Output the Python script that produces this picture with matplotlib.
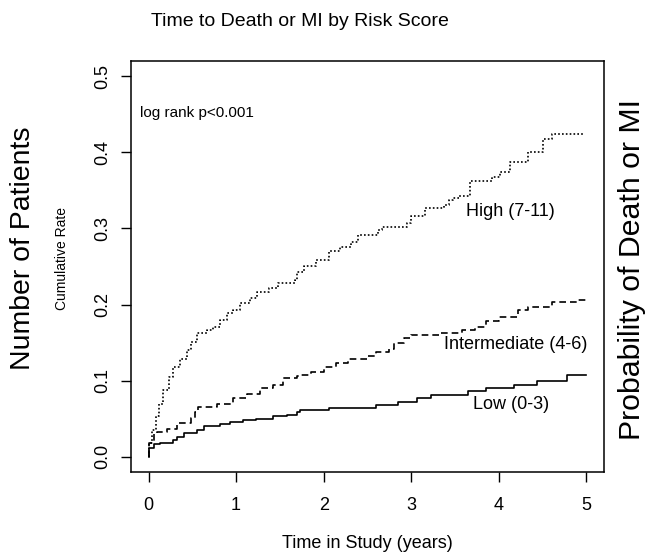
import numpy as np
import matplotlib
matplotlib.use("Agg")
import matplotlib.pyplot as plt

plt.rcParams['font.family'] = ['Liberation Sans', 'DejaVu Sans']

# curvas de incidencia acumulada (tiempo en anos, tasa acumulada)
t_high = [0.0, 0.01, 0.04, 0.08, 0.12, 0.17, 0.23, 0.285, 0.36, 0.44, 0.49, 0.55, 0.67,
          0.74, 0.82, 0.90, 0.97, 1.05, 1.16, 1.24, 1.37, 1.48, 1.67, 1.69, 1.78, 1.91,
          2.06, 2.19, 2.31, 2.39, 2.62, 2.66, 2.95, 3.0, 3.16, 3.37, 3.43, 3.48, 3.54,
          3.67, 3.92, 4.01, 4.13, 4.33, 4.50, 4.61, 4.98]
y_high = [0.0, 0.0175, 0.035, 0.053, 0.070, 0.088, 0.105, 0.118, 0.129, 0.140, 0.151,
          0.162, 0.167, 0.171, 0.180, 0.189, 0.193, 0.202, 0.208, 0.217, 0.222, 0.228,
          0.232, 0.243, 0.251, 0.259, 0.270, 0.276, 0.282, 0.292, 0.298, 0.302, 0.307,
          0.317, 0.327, 0.331, 0.337, 0.340, 0.343, 0.362, 0.368, 0.374, 0.387, 0.401,
          0.418, 0.424, 0.424]

t_mid = [0.0, 0.01, 0.06, 0.10, 0.21, 0.32, 0.48, 0.53, 0.57, 0.78, 0.97, 1.12, 1.27,
         1.42, 1.54, 1.69, 1.73, 1.86, 2.0, 2.14, 2.28, 2.5, 2.6, 2.74, 2.8, 2.92, 3.0,
         3.33, 3.58, 3.73, 3.85, 4.0, 4.22, 4.33, 4.61, 4.9, 5.0]
y_mid = [0.0, 0.0175, 0.031, 0.033, 0.037, 0.044, 0.0505, 0.059, 0.066, 0.070, 0.077,
         0.083, 0.090, 0.094, 0.103, 0.106, 0.108, 0.112, 0.118, 0.123, 0.128, 0.132,
         0.138, 0.141, 0.149, 0.156, 0.160, 0.163, 0.167, 0.171, 0.178, 0.184, 0.193,
         0.197, 0.204, 0.206, 0.206]

t_low = [0.0, 0.01, 0.057, 0.13, 0.285, 0.32, 0.40, 0.55, 0.63, 0.82, 0.93, 1.08, 1.23,
         1.42, 1.58, 1.69, 1.73, 2.06, 2.6, 2.85, 3.07, 3.22, 3.65, 3.85, 4.17, 4.43,
         4.78, 5.0]
y_low = [0.0, 0.011, 0.0167, 0.018, 0.022, 0.026, 0.031, 0.035, 0.040, 0.043, 0.046,
         0.048, 0.050, 0.053, 0.055, 0.059, 0.061, 0.064, 0.068, 0.072, 0.077, 0.081,
         0.086, 0.090, 0.094, 0.0996, 0.107, 0.107]

etiquetas = ['High (7-11)', 'Intermediate (4-6)', 'Low (0-3)']
pos_etiquetas = [(3.62, 0.322), (3.37, 0.148), (3.70, 0.069)]

fig = plt.figure(figsize=(6.5, 5.54), dpi=100)
ax = fig.add_axes([131/650, 1-472/554, 473/650, 411/554])

ax.plot(t_high, y_high, drawstyle='steps-post', color='black', lw=1.2, dashes=(1.0, 1.3))
ax.plot(t_mid, y_mid, drawstyle='steps-post', color='black', lw=1.2, dashes=(4, 2.4))
ax.plot(t_low, y_low, drawstyle='steps-post', color='black', lw=1.2)

for txt, (x, y) in zip(etiquetas, pos_etiquetas):
    ax.text(x, y, txt, fontsize=13, va='center', ha='left')
ax.text(-0.095, 0.452, 'log rank p<0.001', fontsize=11, va='center', ha='left')

ax.set_xlim(-0.2, 5.2)
ax.set_ylim(-0.02, 0.52)
ax.set_xticks([0, 1, 2, 3, 4, 5])
ax.set_yticks([0.0, 0.1, 0.2, 0.3, 0.4, 0.5])
ax.set_yticklabels(['0.0', '0.1', '0.2', '0.3', '0.4', '0.5'], rotation=90, va='center')
ax.tick_params(axis='both', direction='out', length=7, width=1, labelsize=13)
ax.tick_params(axis='x', pad=11)
ax.tick_params(axis='y', pad=7)
for s in ax.spines.values():
    s.set_linewidth(1.1)

fig.text(300/650, 1-21/554, 'Time to Death or MI by Risk Score', fontsize=14,
         ha='center', va='center')
fig.text(367.5/650, 1-543/554, 'Time in Study (years)', fontsize=13, ha='center', va='center')
fig.text(62/650, 1-258/554, 'Cumulative Rate', fontsize=10, rotation=90,
         ha='center', va='center')
fig.text(23/650, 1-248/554, 'Number of Patients', fontsize=20.4, rotation=90,
         ha='center', va='center')
fig.text(632/650, 1-269/554, 'Probability of Death or MI', fontsize=21.8, rotation=90,
         ha='center', va='center')

fig.savefig('out.png', dpi=100)
